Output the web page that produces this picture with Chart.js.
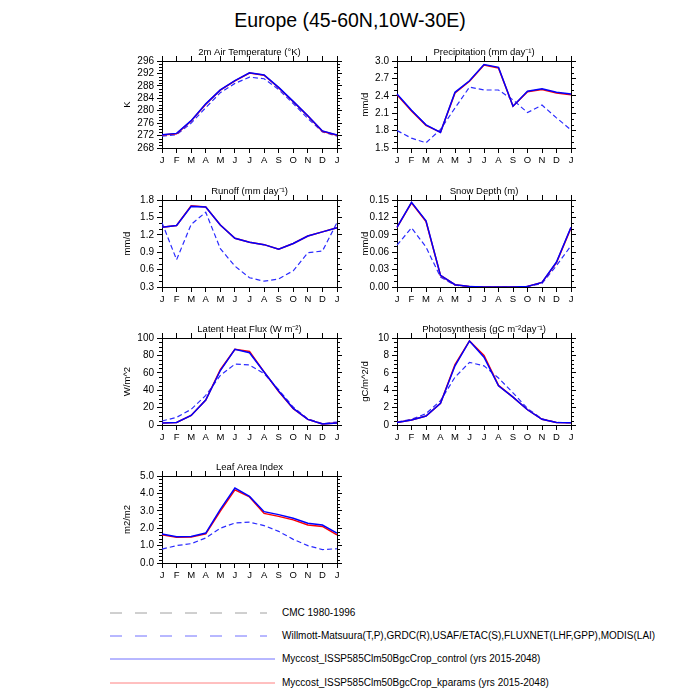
<!DOCTYPE html>
<html>
<head>
<meta charset="utf-8">
<script src="https://cdn.jsdelivr.net/npm/chart.js@4.4.1/dist/chart.umd.min.js"></script>
<style>
  body { margin: 0; background: #fff; font-family: "Liberation Sans", Arial, sans-serif; }
  #wrap { position: relative; width: 700px; height: 700px; }
  #wrap canvas { position: absolute; }
  .maintitle { position: absolute; left: 0; width: 700px; top: 9px; text-align: center; font-size: 19.5px; }
  .legtext { position: absolute; left: 282px; font-size: 10px; line-height: 12px; white-space: nowrap; }
</style>
</head>
<body>
<div id="wrap">
  <div class="maintitle">Europe (45-60N,10W-30E)</div>
  <svg width="700" height="700" style="position:absolute;left:0;top:0">
    <line x1="110" y1="613" x2="267" y2="613" stroke="#a0a0a0" stroke-width="1" stroke-dasharray="12,13"/>
    <line x1="110" y1="636" x2="267" y2="636" stroke="#7070ff" stroke-width="1" stroke-dasharray="12,13"/>
    <line x1="110" y1="659" x2="275" y2="659" stroke="#7070ff" stroke-width="1"/>
    <line x1="110" y1="683" x2="275" y2="683" stroke="#ff8080" stroke-width="1"/>
  </svg>
  <div class="legtext" style="top:607px">CMC 1980-1996</div>
  <div class="legtext" style="top:630px">Willmott-Matsuura(T,P),GRDC(R),USAF/ETAC(S),FLUXNET(LHF,GPP),MODIS(LAI)</div>
  <div class="legtext" style="top:653px">Myccost_ISSP585Clm50BgcCrop_control (yrs 2015-2048)</div>
  <div class="legtext" style="top:677px">Myccost_ISSP585Clm50BgcCrop_kparams (yrs 2015-2048)</div>
</div>
<script>
// months J..J (13 points, January repeated)
const months = ['J', 'F', 'M', 'A', 'M', 'J', 'J', 'A', 'S', 'O', 'N', 'D', 'J'];

// 2m air temperature (K)
const tempObs = [271.8, 272.3, 276.0, 281.0, 285.8, 288.8, 290.8, 290.3, 286.8, 282.3, 277.5, 273.2, 271.8];
const tempCtl = [272.3, 272.7, 276.8, 282.2, 286.7, 289.7, 292.2, 291.5, 287.5, 283.0, 278.4, 273.5, 272.2];
const tempKp  = [272.2, 272.6, 276.7, 282.1, 286.6, 289.6, 292.1, 291.4, 287.4, 282.9, 278.3, 273.4, 272.1];
const tempTicks = [268, 272, 276, 280, 284, 288, 292, 296];

// precipitation (mm/d)
const precObs = [1.80, 1.67, 1.59, 1.82, 2.19, 2.55, 2.50, 2.50, 2.33, 2.11, 2.24, 2.02, 1.81];
const precCtl = [2.43, 2.15, 1.90, 1.77, 2.46, 2.66, 2.94, 2.89, 2.22, 2.48, 2.52, 2.46, 2.43];
const precKp  = [2.42, 2.14, 1.89, 1.77, 2.45, 2.65, 2.93, 2.88, 2.22, 2.47, 2.51, 2.45, 2.42];
const precTicks = [1.5, 1.8, 2.1, 2.4, 2.7, 3.0];

// runoff (mm/d)
const runoffObs = [1.41, 0.77, 1.38, 1.59, 0.96, 0.66, 0.46, 0.40, 0.44, 0.58, 0.89, 0.92, 1.41];
const runoffCtl = [1.33, 1.36, 1.69, 1.68, 1.37, 1.14, 1.07, 1.03, 0.95, 1.05, 1.18, 1.25, 1.32];
const runoffKp  = [1.33, 1.36, 1.70, 1.68, 1.37, 1.14, 1.07, 1.03, 0.95, 1.05, 1.18, 1.25, 1.32];
const runoffTicks = [0.3, 0.6, 0.9, 1.2, 1.5, 1.8];

// snow depth (m)
const snowObs = [0.072, 0.102, 0.069, 0.017, 0.003, 0.001, 0.0, 0.0, 0.0, 0.001, 0.006, 0.037, 0.071];
const snowCtl = [0.103, 0.146, 0.114, 0.020, 0.004, 0.001, 0.0, 0.0, 0.0, 0.001, 0.008, 0.043, 0.103];
const snowKp  = [0.103, 0.145, 0.113, 0.020, 0.004, 0.001, 0.0, 0.0, 0.0, 0.001, 0.008, 0.042, 0.102];
const snowTicks = [0.00, 0.03, 0.06, 0.09, 0.12, 0.15];

// latent heat flux (W/m^2)
const lhfObs = [4.6, 8.8, 18.0, 34.0, 57.0, 70.0, 69.0, 59.0, 40.5, 20.6, 7.0, 1.5, 3.4];
const lhfCtl = [2.3, 3.0, 11.0, 28.6, 62.6, 87.0, 83.0, 61.0, 39.0, 19.0, 6.5, 1.2, 2.3];
const lhfKp  = [2.3, 3.0, 11.0, 28.6, 63.5, 87.0, 84.5, 61.0, 38.5, 18.8, 6.5, 1.2, 2.3];
const lhfTicks = [0, 20, 40, 60, 80, 100];

// photosynthesis (gC/m^2/d)
const gppObs = [0.34, 0.65, 1.30, 2.80, 5.50, 7.20, 6.80, 5.40, 3.70, 1.90, 0.70, 0.30, 0.27];
const gppCtl = [0.30, 0.57, 1.03, 2.50, 6.80, 9.66, 7.80, 4.50, 3.20, 1.75, 0.65, 0.30, 0.27];
const gppKp  = [0.30, 0.57, 1.03, 2.50, 6.95, 9.66, 8.00, 4.55, 3.20, 1.75, 0.65, 0.30, 0.27];
const gppTicks = [0, 2, 4, 6, 8, 10];

// leaf area index (m2/m2)
const laiObs = [0.80, 1.00, 1.11, 1.44, 2.00, 2.30, 2.35, 2.15, 1.82, 1.36, 1.00, 0.77, 0.82];
const laiCtl = [1.67, 1.51, 1.53, 1.72, 3.08, 4.31, 3.83, 2.95, 2.78, 2.57, 2.28, 2.18, 1.72];
const laiKp  = [1.62, 1.48, 1.50, 1.67, 2.98, 4.20, 3.80, 2.85, 2.68, 2.48, 2.18, 2.10, 1.62];
const laiTicks = [0, 1, 2, 3, 4, 5];

const FONT = "'Liberation Sans', Arial, sans-serif";

const panels = [
  { title: '2m Air Temperature (\u00B0K)', yTitle: 'K', obs: tempObs, ctl: tempCtl, kp: tempKp, ticks: tempTicks, dec: 0, minor: 3, left: 162, top: 61, w: 175, yw: 40 },
  { title: 'Precipitation (mm day\u207B\u00B9)', yTitle: 'mm/d', obs: precObs, ctl: precCtl, kp: precKp, ticks: precTicks, dec: 1, minor: 2, left: 397, top: 61, w: 174, yw: 37 },
  { title: 'Runoff (mm day\u207B\u00B9)', yTitle: 'mm/d', obs: runoffObs, ctl: runoffCtl, kp: runoffKp, ticks: runoffTicks, dec: 1, minor: 2, left: 162, top: 200, w: 175, yw: 40 },
  { title: 'Snow Depth (m)', yTitle: 'mm/d', obs: snowObs, ctl: snowCtl, kp: snowKp, ticks: snowTicks, dec: 2, minor: 2, left: 397, top: 200, w: 174, yw: 37 },
  { title: 'Latent Heat Flux (W m\u207B\u00B2)', yTitle: 'W/m^2', obs: lhfObs, ctl: lhfCtl, kp: lhfKp, ticks: lhfTicks, dec: 0, minor: 3, left: 162, top: 338, w: 175, yw: 40 },
  { title: 'Photosynthesis (gC m\u207B\u00B2day\u207B\u00B9)', yTitle: 'gC/m^2/d', obs: gppObs, ctl: gppCtl, kp: gppKp, ticks: gppTicks, dec: 0, minor: 3, left: 397, top: 338, w: 174, yw: 37 },
  { title: 'Leaf Area Index', yTitle: 'm2/m2', obs: laiObs, ctl: laiCtl, kp: laiKp, ticks: laiTicks, dec: 1, minor: 4, left: 162, top: 476, w: 175, yw: 40 }
];

const PH = 87, TOPH = 20, BOTH = 25, RIGHTW = 15;

// panel title above plot area
const panelTitle = {
  id: 'panelTitle',
  afterDraw(chart, args, opts) {
    const { ctx, chartArea } = chart;
    ctx.save();
    ctx.fillStyle = '#000';
    ctx.font = '9.5px ' + FONT;
    ctx.textAlign = 'center';
    ctx.textBaseline = 'middle';
    ctx.fillText(opts.text, (chartArea.left + chartArea.right) / 2, chartArea.top - 9);
    ctx.restore();
  }
};

// small outward ticks between the major y ticks, both sides
const minorTicks = {
  id: 'minorTicks',
  afterDraw(chart, args, opts) {
    const { ctx, chartArea } = chart;
    const sc = chart.scales.y;
    const vals = sc.ticks.map(t => t.value);
    ctx.save();
    ctx.strokeStyle = '#000';
    ctx.lineWidth = 1;
    ctx.beginPath();
    for (let i = 0; i < vals.length - 1; i++) {
      for (let k = 1; k <= opts.n; k++) {
        const v = vals[i] + (vals[i + 1] - vals[i]) * k / (opts.n + 1);
        const p = Math.round(sc.getPixelForValue(v)) + 0.5;
        ctx.moveTo(chartArea.left - 3, p);
        ctx.lineTo(chartArea.left, p);
        ctx.moveTo(chartArea.right, p);
        ctx.lineTo(chartArea.right + 3, p);
      }
    }
    ctx.stroke();
    ctx.restore();
  }
};

const wrap = document.getElementById('wrap');

panels.forEach(p => {
  const cv = document.createElement('canvas');
  const cw = p.yw + p.w + RIGHTW;
  const ch = TOPH + PH + BOTH;
  cv.width = cw;
  cv.height = ch;
  cv.style.left = (p.left - p.yw) + 'px';
  cv.style.top = (p.top - TOPH) + 'px';
  wrap.appendChild(cv);

  const setTicks = scale => { scale.ticks = p.ticks.map(v => ({ value: v })); };
  const gridOpt = { drawOnChartArea: false, drawTicks: true, tickLength: 5, color: '#000', lineWidth: 1 };
  const borderOpt = { display: true, color: '#000', width: 1 };
  const yMin = p.ticks[0], yMax = p.ticks[p.ticks.length - 1];

  new Chart(cv, {
    type: 'line',
    data: {
      labels: months,
      datasets: [
        { label: 'control', data: p.ctl, borderColor: '#0000ff', borderWidth: 1.5 },
        { label: 'kparams', data: p.kp, borderColor: '#ff0000', borderWidth: 1.5 },
        { label: 'obs', data: p.obs, borderColor: '#2b2bff', borderWidth: 1.2, borderDash: [5, 3] }
      ]
    },
    options: {
      responsive: false,
      animation: false,
      devicePixelRatio: 1,
      layout: { padding: 0 },
      elements: { point: { radius: 0 }, line: { tension: 0, fill: false } },
      plugins: {
        legend: { display: false },
        tooltip: { enabled: false },
        panelTitle: { text: p.title },
        minorTicks: { n: p.minor }
      },
      scales: {
        x: {
          position: 'bottom',
          offset: false,
          grid: gridOpt,
          border: borderOpt,
          ticks: { color: '#000', font: { family: FONT, size: 9.5 }, padding: 2, maxRotation: 0, autoSkip: false },
          afterFit: s => { s.height = BOTH; }
        },
        x2: {
          position: 'top',
          offset: false,
          grid: gridOpt,
          border: borderOpt,
          ticks: { display: false, autoSkip: false },
          afterFit: s => { s.height = TOPH; }
        },
        y: {
          position: 'left',
          min: yMin,
          max: yMax,
          grid: gridOpt,
          border: borderOpt,
          afterBuildTicks: setTicks,
          ticks: { color: '#000', font: { family: FONT, size: 10 }, padding: 3, autoSkip: false, callback: v => Number(v).toFixed(p.dec) },
          title: { display: true, text: p.yTitle, color: '#000', font: { family: FONT, size: 9.5 }, padding: 0 },
          afterFit: s => { s.width = p.yw; }
        },
        y2: {
          position: 'right',
          min: yMin,
          max: yMax,
          grid: gridOpt,
          border: borderOpt,
          afterBuildTicks: setTicks,
          ticks: { display: false, autoSkip: false },
          afterFit: s => { s.width = RIGHTW; }
        }
      }
    },
    plugins: [panelTitle, minorTicks]
  });
});
</script>
</body>
</html>
